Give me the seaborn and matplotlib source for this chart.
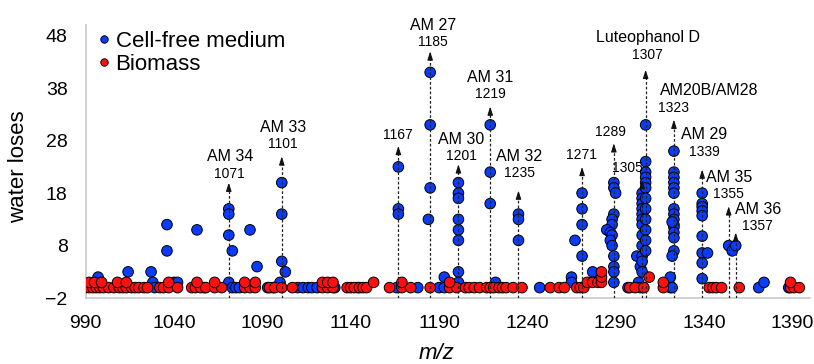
import matplotlib
matplotlib.use("Agg")
import matplotlib.pyplot as plt
import seaborn as sns
import pandas as pd

# Cell-free medium (m/z, water losses)
cf_mz = [997, 1014, 1027, 1028, 1029, 1036, 1036, 1040, 1042, 1053, 1057,
         1071, 1071, 1071, 1073, 1071, 1073, 1075, 1077, 1083, 1087, 1093, 1096,
         1100, 1101, 1101, 1101, 1103, 1110, 1113, 1116, 1118, 1121, 1131, 1144,
         1166, 1167, 1167, 1167, 1178, 1184, 1185, 1185, 1185, 1190, 1193, 1193,
         1201, 1201, 1201, 1201, 1201, 1201, 1201, 1201, 1219, 1219, 1219, 1222,
         1235, 1235, 1235, 1247, 1265, 1265, 1267, 1271, 1271, 1271, 1271, 1277,
         1289, 1289, 1290, 1289, 1288, 1288, 1285, 1287, 1288, 1287, 1288, 1289,
         1289, 1289, 1289, 1297, 1302, 1303, 1304, 1304,
         1305, 1305, 1305, 1305, 1305, 1305, 1305, 1305, 1305, 1305, 1305, 1305,
         1307, 1307, 1307, 1307, 1307, 1307, 1307, 1307, 1307, 1307, 1307, 1307,
         1321, 1321, 1322, 1323, 1323, 1323, 1323, 1323, 1323, 1323, 1323, 1323,
         1323, 1323, 1323, 1323, 1323, 1322, 1322,
         1339, 1339, 1339, 1339, 1339, 1339, 1339, 1339, 1339, 1342,
         1354, 1356, 1358, 1371, 1374, 1388]
cf_loss = [2, 3, 3, 1, 0, 12, 7, 1, 1, 11, 0,
           15, 14, 10, 7, 1, 0, 0, 0, 11, 4, 0, 0,
           1, 20, 14, 5, 3, 0, 0, 0, 0, 0, 0, 0,
           0, 23, 15, 14, 0, 13, 19, 31, 41, 0, 0, 2,
           20, 18, 17, 13, 11, 9, 3, 1, 31, 22, 16, 1,
           14, 13, 9, 0, 2, 1, 9, 18, 15, 12, 6, 3,
           20, 19, 18, 14, 13, 12, 11, 10.5, 10, 9, 8, 6,
           4, 3, 1, 0, 6, 1, 0, 4,
           18, 17, 16, 15, 14, 13, 12, 10, 8, 6, 5, 3,
           31, 24, 22, 21, 20, 19, 17, 15, 13, 11, 9, 7,
           2, 0, 0, 26, 22, 21, 20, 19, 18, 15, 14, 13,
           12, 11.5, 10.5, 9.5, 7, 12.5, 6,
           18, 16, 15.4, 14.6, 13.7, 9.8, 6.6, 4.7, 1.7, 6.6,
           8, 7, 8, 0, 1, 0]

# Biomass (m/z, water losses)
bm_mz = [990, 992, 994, 996, 998, 1000, 1003, 1006, 1009, 1011, 1013, 1016,
         1018, 1020, 1023, 1025, 1032, 1034, 1037, 1042, 1050, 1052, 1055, 1058,
         1063, 1067, 1080, 1083, 1086, 1094, 1097, 1101, 1107, 1124, 1127, 1130,
         1138, 1140, 1142, 1145, 1147, 1149, 1162, 1169, 1174, 1185, 1196, 1200,
         1205, 1207, 1210, 1213, 1217, 1219, 1221, 1224, 1226, 1228, 1232, 1237,
         1253, 1258, 1261, 1268, 1270, 1272, 1298, 1301, 1306, 1317, 1343, 1345,
         1347, 1350, 1360, 1389, 1391, 1394,
         992, 995, 999, 1008, 1013, 1037, 1053, 1063, 1080, 1086, 1124, 1127,
         1130, 1153, 1169, 1196, 1274, 1277, 1280, 1282, 1317, 1389,
         1282, 1309, 1282]
bm_loss = [0] * 78 + [1] * 22 + [2, 2, 3]

# annotated peaks
peak_mz = ["1071", "1101", "1167", "1185", "1201", "1219", "1235", "1271",
           "1289", "1305", "1307", "1323", "1339", "1355", "1357"]
peak_name = ["AM 34", "AM 33", "", "AM 27", "AM 30", "AM 31", "AM 32", "", "",
             "", "Luteophanol D", "AM20B/AM28", "AM 29", "AM 35", "AM 36"]
peak_x = [1071, 1101, 1167, 1185, 1201, 1219, 1235, 1271, 1289, 1305, 1307,
          1323, 1339, 1354, 1358]
peak_top = [20, 25, 27, 45, 23.5, 34.5, 18.5, 23, 27.5, 20.5, 41.5, 32, 22.5,
            15.5, 10.5]

# label offsets in pixels (number label centre relative to arrow tip, name relative to number)
num_off = [(1, 9), (1, 12), (0, 11), (3, 9), (3, 8), (0, 12), (1, 17), (-1, 12),
           (-3, 11), (-15, 12), (2, 15), (0, 12), (2, 17), (0, 12), (22, 6)]
name_off = [(0, 17)] * 11 + [(35, 17), (0, 18), (0, 17), (0, 17)]

df = pd.DataFrame({
    "mz": cf_mz + bm_mz,
    "loss": cf_loss + bm_loss,
    "sample": ["Cell-free medium"] * len(cf_mz) + ["Biomass"] * len(bm_mz),
})

sns.set_style("white")
plt.rcParams["font.family"] = ["Liberation Sans", "DejaVu Sans"]
plt.rcParams["text.color"] = "black"
plt.rcParams["axes.labelcolor"] = "black"
plt.rcParams["xtick.color"] = "black"
plt.rcParams["ytick.color"] = "black"

fig = plt.figure(figsize=(8.14, 3.64), dpi=100)
ax = fig.add_axes([0.1053, 0.181, 0.8897, 0.75])

sns.scatterplot(data=df, x="mz", y="loss", hue="sample",
                palette={"Cell-free medium": "#0a3cff", "Biomass": "#ff1010"},
                s=58, edgecolor="black", linewidth=0.7, ax=ax, zorder=3)

pt = 0.72
for i in range(len(peak_x)):
    x = peak_x[i]
    top = peak_top[i]
    ax.plot([x, x], [-2, top - 1.2], color="#222222", lw=0.9,
            linestyle=(0, (2.2, 1.6)), zorder=4)
    ax.annotate("", xy=(x, top), xytext=(x, top - 1.4),
                arrowprops=dict(arrowstyle="-|>,head_length=0.5,head_width=0.16",
                                color="#111111", lw=0.8, shrinkA=0, shrinkB=0),
                zorder=5)
    dx, dy = num_off[i]
    ax.annotate(peak_mz[i], xy=(x, top), xytext=(dx * pt, dy * pt),
                textcoords="offset points", ha="center", va="center",
                fontsize=10, annotation_clip=False)
    if peak_name[i]:
        nx, ny = name_off[i]
        ax.annotate(peak_name[i], xy=(x, top),
                    xytext=((dx + nx) * pt, (dy + ny) * pt),
                    textcoords="offset points", ha="center", va="center",
                    fontsize=11.5, annotation_clip=False)

ax.set_xlim(990, 1400)
ax.set_ylim(-2, 50)
ax.set_xticks(range(990, 1391, 50))
ax.set_yticks(range(-2, 49, 10))
ax.tick_params(axis="x", direction="out", length=5, width=1, color="#c8c8c8",
               labelcolor="black", labelsize=14, pad=7)
ax.tick_params(axis="y", length=0, labelsize=14, pad=13)

for side in ["top", "right"]:
    ax.spines[side].set_visible(False)
for side in ["left", "bottom"]:
    ax.spines[side].set_color("#c8c8c8")
    ax.spines[side].set_linewidth(1.2)

ax.set_xlabel("m/z", fontsize=16, style="italic")
ax.xaxis.set_label_coords(0.485, -0.165)
ax.set_ylabel("water loses", fontsize=16)
ax.yaxis.set_label_coords(-0.078, 0.48)

handles, labels = ax.get_legend_handles_labels()
ax.legend(handles, labels, loc="upper left", bbox_to_anchor=(0.012, 0.978),
          frameon=False, fontsize=16, markerscale=0.7, handletextpad=0.05,
          handlelength=0.9, labelspacing=0.08, borderpad=0, borderaxespad=0)

fig.savefig("out.png", dpi=100)
